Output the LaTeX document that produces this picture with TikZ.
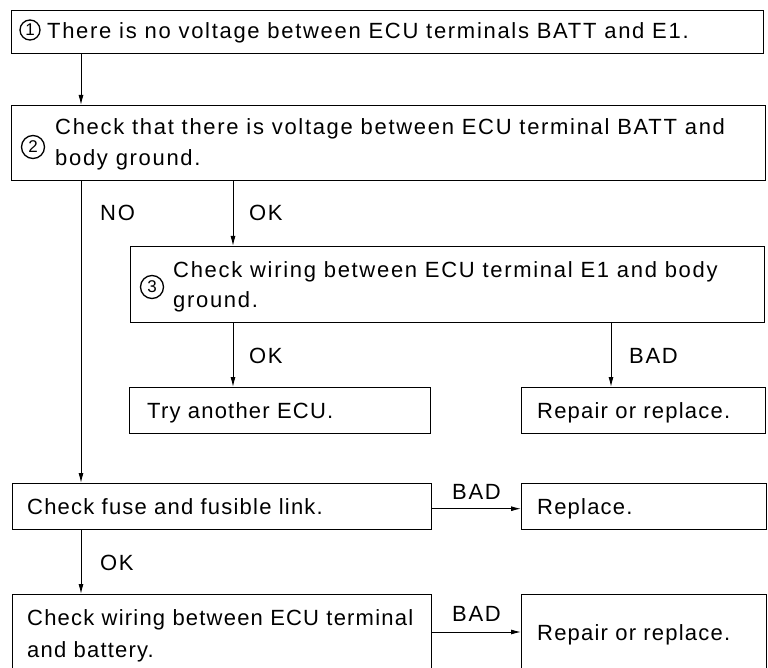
\documentclass[tikz,border=0pt]{standalone}
\usepackage{fontspec}
\setmainfont{Liberation Sans}[LetterSpace=7.7]
\usetikzlibrary{arrows.meta}
\begin{document}
\begin{tikzpicture}[x=1pt,y=-1pt,
  box/.style={draw, line width=1.4pt, anchor=north west, inner sep=0pt},
  txt/.style={anchor=base west, inner sep=0pt, font=\fontsize{22}{26}\selectfont},
  txn/.style={txt, font=\fontsize{22}{26}\selectfont\addfontfeatures{LetterSpace=5.5}},
  circnum/.style={draw, circle, line width=1.3pt, inner sep=0pt, font=\fontsize{17}{17}\selectfont},
  arr/.style={line width=1pt, -{Latex[length=10pt,width=5pt]}}]
\clip (0,0) rectangle (768,668);
% boxes
\node[box, minimum width=752pt, minimum height=43pt] (b1) at (11,10) {};
\node[box, minimum width=754pt, minimum height=75pt] (b2) at (11,105) {};
\node[box, minimum width=634pt, minimum height=76pt] (b3) at (130,246) {};
\node[box, minimum width=301pt, minimum height=46pt] (try) at (129,387) {};
\node[box, minimum width=244pt, minimum height=46pt] (rep1) at (521,387) {};
\node[box, minimum width=419pt, minimum height=46pt] (fuse) at (12,483) {};
\node[box, minimum width=245pt, minimum height=46pt] (repl) at (521,483) {};
\node[box, minimum width=419pt, minimum height=110pt] (wire) at (12,594) {};
\node[box, minimum width=245pt, minimum height=110pt] (rep2) at (521,594) {};
% circled numbers
\node[circnum, minimum size=20pt] (c1) at (30,30) {1};
\node[circnum, minimum size=23pt] (c2) at (33,147) {2};
\node[circnum, minimum size=23pt] (c3) at (152,287) {3};
% texts
\node[txt] (t1) at (47,39) {There is no voltage between ECU terminals BATT and E1.};
\node[txt] (t2a) at (55,135) {Check that there is voltage between ECU terminal BATT and};
\node[txt] (t2b) at (55,166) {body ground.};
\node[txt] (t3a) at (173,278) {Check wiring between ECU terminal E1 and body};
\node[txt] (t3b) at (173,308) {ground.};
\node[txn] (ttry) at (147,418) {Try another ECU.};
\node[txn] (trep1) at (537,418) {Repair or replace.};
\node[txn] (tfuse) at (27,514) {Check fuse and fusible link.};
\node[txn] (trepl) at (537,514) {Replace.};
\node[txn] (twa) at (27,625) {Check wiring between ECU terminal};
\node[txn] (twb) at (27,657) {and battery.};
\node[txn] (trep2) at (537,640) {Repair or replace.};
% labels
\node[txt] (lno) at (100,221) {NO};
\node[txt] (lok1) at (249,221) {OK};
\node[txt] (lok2) at (249,363) {OK};
\node[txt] (lbad1) at (629,363) {BAD};
\node[txt] (lbad2) at (452,499) {BAD};
\node[txt] (lok3) at (100,570) {OK};
\node[txt] (lbad3) at (452,621) {BAD};
% connectors
\draw[arr] ([xshift=70pt]b1.south west) -- ([xshift=70pt]b1.south west |- b2.north);
\draw[arr] ([xshift=70pt]b2.south west) -- ([xshift=70pt]b2.south west |- fuse.north);
\draw[arr] ([xshift=222pt]b2.south west) -- ([xshift=222pt]b2.south west |- b3.north);
\draw[arr] ([xshift=103pt]b3.south west) -- ([xshift=103pt]b3.south west |- try.north);
\draw[arr] ([xshift=481pt]b3.south west) -- ([xshift=481pt]b3.south west |- rep1.north);
\draw[arr] ([yshift=-2pt]fuse.east) -- ([yshift=-2pt]fuse.east -| repl.west);
\draw[arr] ([xshift=69pt]fuse.south west) -- ([xshift=69pt]fuse.south west |- wire.north);
\draw[arr] ([yshift=-38pt]wire.north east) -- ([yshift=-38pt]rep2.north west);
\end{tikzpicture}
\end{document}
